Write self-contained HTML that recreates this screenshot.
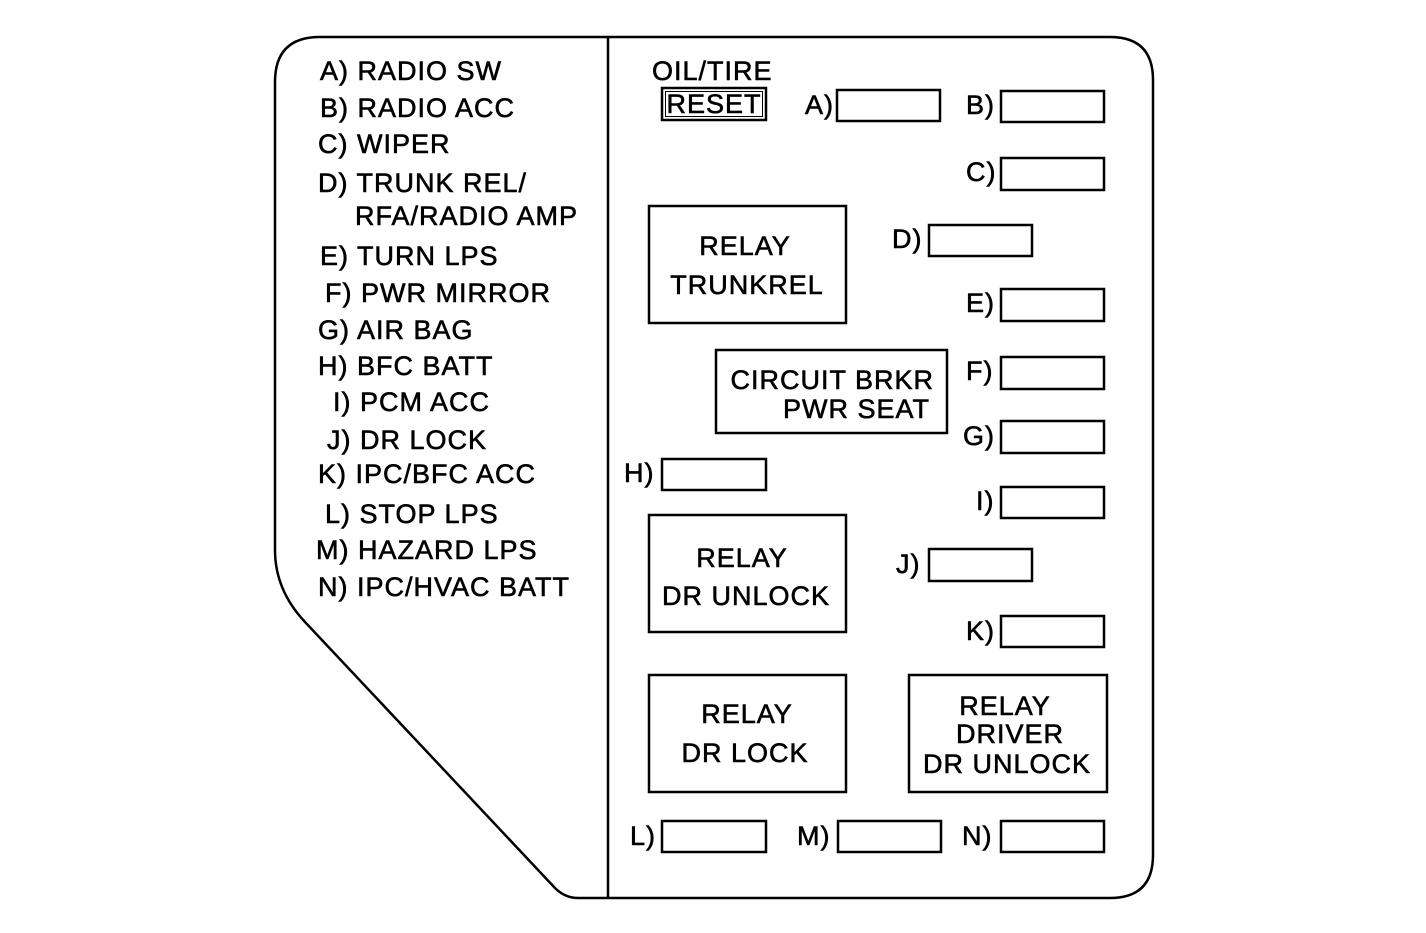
<!DOCTYPE html>
<html><head><meta charset="utf-8"><style>
html,body{margin:0;padding:0;background:#fff;}
svg{display:block;}
text{font-family:"Liberation Sans",Arial,sans-serif;font-size:27px;fill:#000;stroke:#000;stroke-width:0.6px;letter-spacing:1px;}
</style></head><body>
<svg width="1426" height="933" viewBox="0 0 1426 933" xmlns="http://www.w3.org/2000/svg">
<g fill="none" stroke="#000" stroke-width="2.5">
<path d="M320,37 L1110,37 Q1153,37 1153,80 L1153,855 Q1153,898 1110,898 L578,898 Q565,898 555,888 L305,622 Q275,590 275,550 L275,82 Q275,37 320,37 Z"/>
<line x1="608" y1="37" x2="608" y2="898"/>
<rect x="837" y="90" width="103" height="31"/>
<rect x="1001" y="91" width="103" height="31"/>
<rect x="1001" y="158" width="103" height="32"/>
<rect x="929" y="225" width="103" height="31"/>
<rect x="1001" y="289" width="103" height="32"/>
<rect x="1001" y="357" width="103" height="32"/>
<rect x="1001" y="421" width="103" height="32"/>
<rect x="662" y="459" width="104" height="31"/>
<rect x="1001" y="487" width="103" height="31"/>
<rect x="929" y="549" width="103" height="32"/>
<rect x="1001" y="616" width="103" height="31"/>
<rect x="662" y="821" width="104" height="31"/>
<rect x="838" y="821" width="103" height="31"/>
<rect x="1001" y="821" width="103" height="31"/>
<rect x="649" y="206" width="197" height="117"/>
<rect x="716" y="350" width="231" height="83"/>
<rect x="649" y="515" width="197" height="117"/>
<rect x="649" y="675" width="197" height="117"/>
<rect x="909" y="675" width="198" height="117"/>
<rect x="662" y="88" width="104" height="32"/>
<rect x="665.5" y="91.5" width="97" height="25" stroke-width="1"/>
</g>
<text x="320" y="80">A) RADIO SW</text>
<text x="320" y="117">B) RADIO ACC</text>
<text x="318" y="153">C) WIPER</text>
<text x="318" y="192">D) TRUNK REL/</text>
<text x="355" y="225">RFA/RADIO AMP</text>
<text x="320" y="265">E) TURN LPS</text>
<text x="325" y="302">F) PWR MIRROR</text>
<text x="318" y="339">G) AIR BAG</text>
<text x="318" y="375">H) BFC BATT</text>
<text x="333" y="411">I) PCM ACC</text>
<text x="327" y="449">J) DR LOCK</text>
<text x="318" y="483">K) IPC/BFC ACC</text>
<text x="325" y="523">L) STOP LPS</text>
<text x="316" y="559">M) HAZARD LPS</text>
<text x="318" y="596">N) IPC/HVAC BATT</text>
<text x="652" y="80">OIL/TIRE</text>
<text x="714" y="113" text-anchor="middle">RESET</text>
<text x="805" y="114">A)</text>
<text x="966" y="114">B)</text>
<text x="966" y="181">C)</text>
<text x="892" y="248">D)</text>
<text x="966" y="312">E)</text>
<text x="966" y="380">F)</text>
<text x="963" y="445">G)</text>
<text x="624" y="482">H)</text>
<text x="976" y="510">I)</text>
<text x="896" y="573">J)</text>
<text x="966" y="640">K)</text>
<text x="630" y="845">L)</text>
<text x="797" y="845">M)</text>
<text x="962" y="845">N)</text>
<g text-anchor="middle">
<text x="745" y="255">RELAY</text>
<text x="747" y="294">TRUNKREL</text>
<text x="742" y="567">RELAY</text>
<text x="746" y="605">DR UNLOCK</text>
<text x="747" y="723">RELAY</text>
<text x="745" y="762">DR LOCK</text>
<text x="1005" y="715">RELAY</text>
<text x="1010" y="743">DRIVER</text>
<text x="1007" y="773">DR UNLOCK</text>
</g>
<g text-anchor="end">
<text x="934" y="389">CIRCUIT BRKR</text>
<text x="930" y="418">PWR SEAT</text>
</g>
</svg>
</body></html>
